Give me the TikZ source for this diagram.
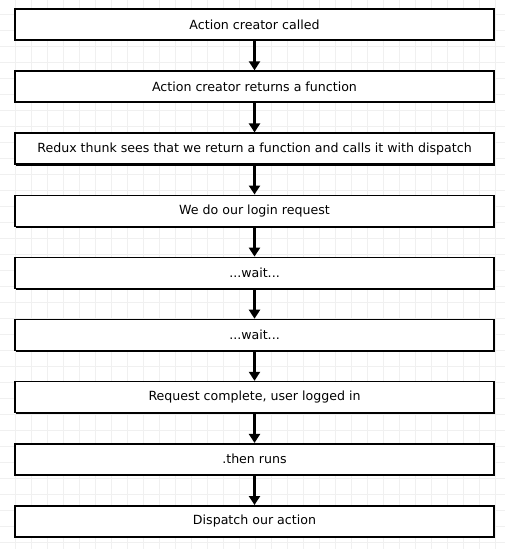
\documentclass[tikz,border=0pt]{standalone}
\usepackage{fontspec}
\setmainfont{DejaVu Sans}
\usetikzlibrary{arrows.meta,shadows}

\tikzset{every picture/.style={line width=0.75pt}}
\tikzset{
  flowbox/.style={draw=black, fill=white, line width=1.6pt, minimum width=479pt, minimum height=31pt,
    inner sep=0pt, font=\fontsize{12.6}{14}\selectfont,
    drop shadow={shadow xshift=1.3pt, shadow yshift=-1.3pt, fill=black, opacity=1}},
  flowarrow/.style={draw=black, line width=2.4pt, -{Triangle[length=9pt,width=11pt]}},
  gridline/.style={draw=black!6, line width=0.6pt}
}

\begin{document}
\begin{tikzpicture}[x=1pt,y=1pt,yscale=-1,xscale=1]
\useasboundingbox (0,0) rectangle (504,549);
% background grid
\fill[white] (0,0) rectangle (504,549);
\begin{scope}[shift={(-1,-2)}]
\draw[gridline, step=16] (0,0) grid (520,560);
\end{scope}

% Text Node
\node [flowbox] (called) at (254.5,24.5) {Action creator called};
% Text Node
\node [flowbox] (returns) at (254.5,86.6) {Action creator returns a function};
% Text Node
\node [flowbox] (thunk) at (254.5,148.7) {Redux thunk sees that we return a function and calls it with dispatch};
% Text Node
\node [flowbox] (login) at (254.5,210.8) {We do our login request};
% Text Node
\node [flowbox] (waitA) at (254.5,272.9) {...wait...};
% Text Node
\node [flowbox] (waitB) at (254.5,335) {...wait...};
% Text Node
\node [flowbox] (complete) at (254.5,397.1) {Request complete, user logged in};
% Text Node
\node [flowbox] (then) at (254.5,459.2) {.then runs};
% Text Node
\node [flowbox] (dispatch) at (254.5,521.3) {Dispatch our action};

% arrows
\draw [flowarrow] (called) -- (returns);
\draw [flowarrow] (returns) -- (thunk);
\draw [flowarrow] (thunk) -- (login);
\draw [flowarrow] (login) -- (waitA);
\draw [flowarrow] (waitA) -- (waitB);
\draw [flowarrow] (waitB) -- (complete);
\draw [flowarrow] (complete) -- (then);
\draw [flowarrow] (then) -- (dispatch);

\end{tikzpicture}
\end{document}
